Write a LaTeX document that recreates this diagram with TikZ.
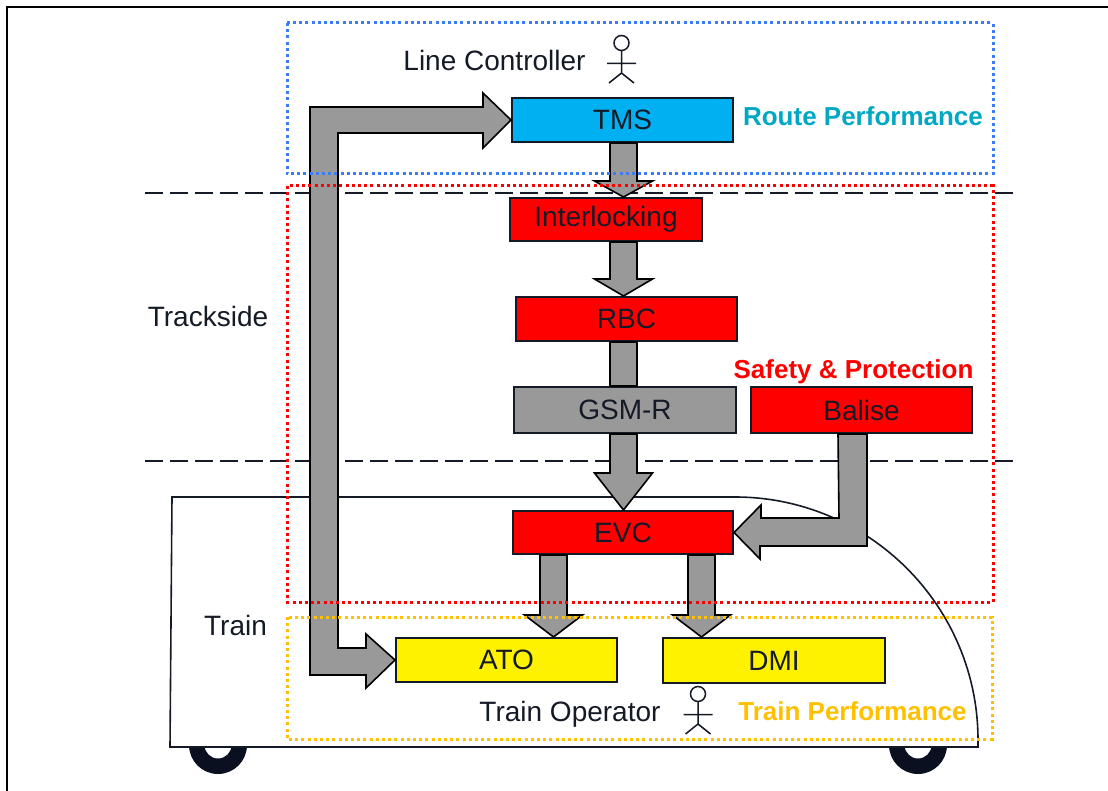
\documentclass[tikz,border=0pt]{standalone}
\usepackage{fontspec}
\setmainfont{Liberation Sans}
\usetikzlibrary{calc}

\definecolor{ink}{HTML}{141A26}
\definecolor{tmsblue}{HTML}{00B0F0}
\definecolor{shaftgray}{HTML}{999999}
\definecolor{zoneblue}{HTML}{3C7DF5}
\definecolor{routeteal}{HTML}{00A8C4}
\definecolor{perfyellow}{HTML}{FFC000}
\definecolor{wheel}{HTML}{0B1020}

\tikzset{
  box/.style={draw=ink, line width=1pt, minimum width=110.5pt, minimum height=22pt,
    inner sep=0pt, text=ink, font=\fontsize{14}{16}\selectfont},
  blockarrow/.style={draw=black, fill=shaftgray, line width=0.8pt, line join=miter},
  zone/.style={line width=1.5pt, dash pattern=on 1.5pt off 1.6pt},
  divider/.style={draw=ink, line width=1pt, dash pattern=on 9pt off 3.5pt},
  lbl/.style={anchor=base, text=ink, font=\fontsize{14}{16}\selectfont},
  perflbl/.style={anchor=base, font=\bfseries\fontsize{13}{15}\selectfont},
  actor/.pic={
    \draw[ink, line width=0.75pt] (0,0) circle[radius=3.75pt];
    \draw[ink, line width=0.75pt] (0,7.5) -- (0,30) (-14.5,20.5) -- (14.5,20.5)
      (-12.5,40) -- (0,30) -- (12.5,40);
  }
}

% straight block arrow: [head length]{lane}{from}{to}
\newcommand{\flowdown}[4][10pt]{%
  \draw[blockarrow] let \p1=(#3.south -| #2), \p2=(#4.north -| #2) in
    (\x1-6.75pt,\y1) -- (\x1+6.75pt,\y1) -- (\x1+6.75pt,\y2+#1) -- (\x1+14.5pt,\y2+#1)
    -- (\x1,\y2) -- (\x1-14.5pt,\y2+#1) -- (\x1-6.75pt,\y2+#1) -- cycle;}

\begin{document}
\begin{tikzpicture}[x=0.5pt, y=-0.5pt]
  \useasboundingbox (0,0) rectangle (1108,791);
  \draw[black, line width=1.2pt] (1108,7) -- (7,7) -- (7,791);

  % wheels and train body
  \fill[wheel, even odd rule] (218,745) circle[radius=14.5pt] circle[radius=6.75pt];
  \fill[wheel, even odd rule] (918,745) circle[radius=14.5pt] circle[radius=6.75pt];
  \draw[ink, line width=0.8pt, fill=white] (172,497) -- (735,497)
    .. controls (869,497) and (978,606) .. (978,740) -- (978,747) -- (170,747) -- cycle;

  % trackside / train borders
  \draw[divider] (145,193) -- (1015,193);
  \draw[divider] (145,461) -- (1015,461);

  \node[box, fill=tmsblue] (tms) at (622.5,120) {TMS};
  \node[box, fill=red, minimum width=96pt, minimum height=21.5pt] (ilk) at (606,219.5) {Interlocking};
  \node[box, fill=red] (rbc) at (626.5,319) {RBC};
  \node[box, fill=shaftgray, minimum width=111pt, minimum height=23pt] (gsm) at (625,410) {GSM-R};
  \node[box, fill=red, minimum height=23pt] (balise) at (861.5,410) {Balise};
  \node[box, fill=red, minimum width=110pt, minimum height=21.5pt] (evc) at (623,532.5) {EVC};
  \node[box, fill=yellow] (ato) at (506.5,660) {ATO};
  \node[box, fill=yellow, minimum width=111pt, minimum height=22.5pt] (dmi) at (774,660.5) {DMI};

  \coordinate (spine) at (623.5,0);
  \coordinate (atolane) at (553.5,0);
  \coordinate (dmilane) at (701.5,0);

  \flowdown[8pt]{spine}{tms}{ilk}
  \flowdown[8.5pt]{spine}{ilk}{rbc}
  \draw[blockarrow] let \p1=(rbc.south -| spine), \p2=(gsm.north -| spine) in
    (\x1-6.75pt,\y1) rectangle (\x1+6.75pt,\y2);
  \flowdown[18.5pt]{spine}{gsm}{evc}
  \flowdown[11pt]{atolane}{evc}{ato}
  \flowdown[11pt]{dmilane}{evc}{dmi}

  % balise down and into the EVC
  \draw[blockarrow] (balise.south) ++(-23.5,0) -- ++(29,0) -- ++(0,112) -- ++(-107,0)
    -- ++(0,13) -- (evc.east) -- ++(27,-27.5) -- ++(0,13) -- ++(78,0) -- cycle;

  % two-headed bracket TMS <-> ATO
  \draw[blockarrow] (tms.west) -- ++(-28,-27) -- ++(0,14) -- ++(-173,0) -- ++(0,568)
    -- ++(56,0) -- ++(0,13) -- (ato.west) -- ++(-29,-26) -- ++(0,14) -- ++(-28,0)
    -- ++(0,-515) -- ++(145,0) -- ++(0,15) -- cycle;

  \draw[zone, draw=zoneblue] (287,23) rectangle (993,174);
  \draw[zone, draw=red] (287,186) rectangle (993,602);
  \draw[zone, draw=perfyellow] (287,617) rectangle (992,739);

  \node[lbl] (lc) at (494.5,70.5) {Line Controller};
  \pic at (621.5,43) {actor};
  \node[perflbl, text=routeteal] (route) at (863,126) {Route Performance};
  \node[lbl] (trackside) at (208,326) {Trackside};
  \node[perflbl, text=red] (safety) at (853.5,378) {Safety \& Protection};
  \node[lbl] (train) at (235.5,635) {Train};
  \node[lbl] (op) at (570,721) {Train Operator};
  \pic at (698,694) {actor};
  \node[perflbl, text=perfyellow] (trainperf) at (852.5,720) {Train Performance};
\end{tikzpicture}
\end{document}
